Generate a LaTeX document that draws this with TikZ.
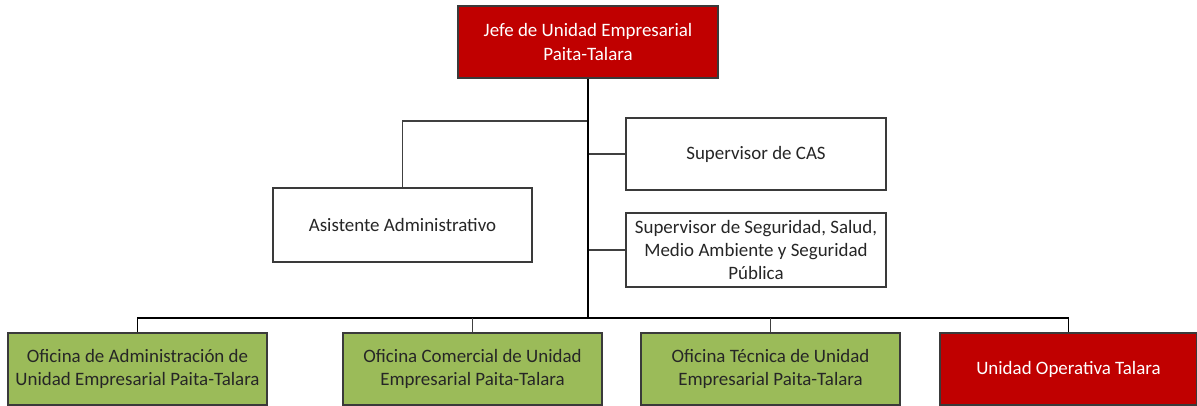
\documentclass[tikz,border=0pt]{standalone}
\usepackage{fontspec}
\setmainfont{Carlito}
\definecolor{darkred}{HTML}{C00000}
\definecolor{olive}{HTML}{9BBB59}
\definecolor{edge}{HTML}{3A3A3A}
\begin{document}
\begin{tikzpicture}[x=0.75pt,y=-0.75pt,
  box/.style={draw=edge,line width=1.3pt,minimum height=54pt,align=center,
    font=\fontsize{14.2}{17.3}\selectfont,inner sep=1pt},
  redbox/.style={box,fill=darkred,text=white},
  greenbox/.style={box,fill=olive,text=black!85},
  whitebox/.style={box,fill=white,text=black!85},
  trunk/.style={line width=2pt,black},
  conn/.style={line width=1.2pt,black!75}]
\useasboundingbox (0,0) rectangle (1197,406);
\node[redbox,minimum width=195pt] (top) at (588,42) {Jefe de Unidad Empresarial\\Paita-Talara};
\node[whitebox,minimum width=194pt,minimum height=55.5pt] (asis) at (402.5,225) {Asistente Administrativo};
\node[whitebox,minimum width=195pt] (cas) at (756,154) {Supervisor de CAS};
\node[whitebox,minimum width=195pt,minimum height=55.5pt] (seg) at (756,250) {Supervisor de Seguridad, Salud,\\Medio Ambiente y Seguridad\\Pública};
\node[greenbox,minimum width=194pt] (b1) at (137.5,369) {Oficina de Administración de\\Unidad Empresarial Paita-Talara};
\node[greenbox,minimum width=194pt] (b2) at (472.5,369) {Oficina Comercial de Unidad\\Empresarial Paita-Talara};
\node[greenbox,minimum width=194pt] (b3) at (770.5,369) {Oficina Técnica de Unidad\\Empresarial Paita-Talara};
\node[redbox,minimum width=193pt] (b4) at (1068.5,369) {Unidad Operativa Talara};
\coordinate (jn) at (588,318);
\draw[conn] (asis.north) |- (588,121);
\draw[conn] (cas.west) -- (588,154);
\draw[conn] (seg.west) -- (588,250);
\draw[line width=1.3pt,black] (b1.north) |- (jn) -| (b4.north);
\draw[conn] (b2.north) -- (472.5,318);
\draw[conn] (b3.north) -- (770.5,318);
\draw[trunk] (top.south) -- (jn);
\end{tikzpicture}
\end{document}
